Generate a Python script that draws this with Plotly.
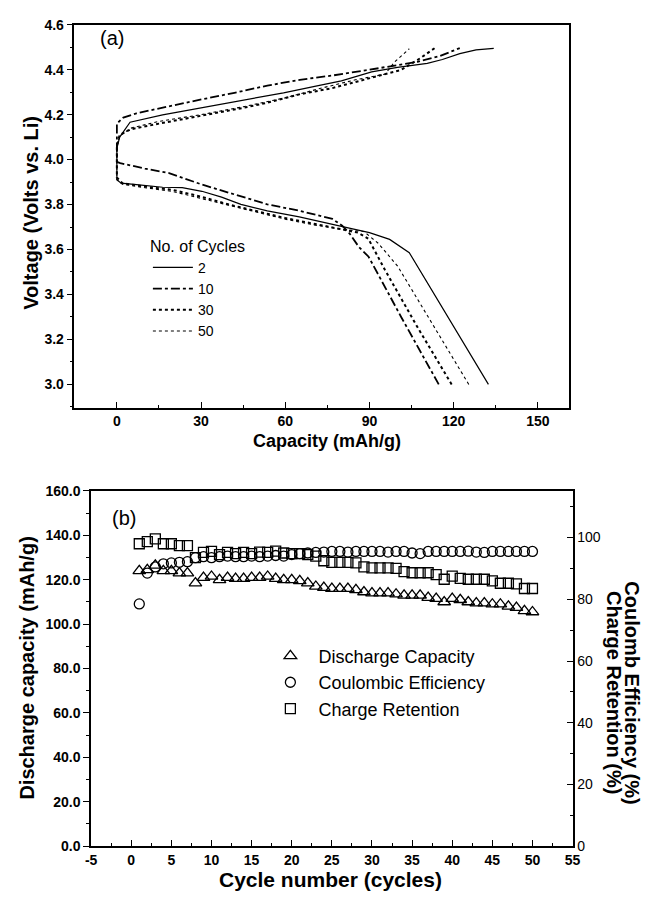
import plotly.graph_objects as go

FONT = "Liberation Sans, Arial, sans-serif"

# ---------------- Panel (a): charge / discharge voltage profiles ----------------
cycle_names = ["2", "10", "30", "50"]

c2_charge_cap = [0, 1, 4.7, 16.3, 30.3, 45.4, 59.4, 72.2, 80, 90.8, 100, 110.6, 116, 122.2, 128, 134.3]
c2_charge_v = [4.05, 4.10, 4.166, 4.199, 4.231, 4.268, 4.297, 4.33, 4.35, 4.39, 4.41, 4.428, 4.445, 4.471, 4.488, 4.495]
c2_dis_cap = [0, 1.5, 7, 16.3, 23.3, 30.3, 37.3, 44.2, 53.6, 65, 76, 84, 90, 97.2, 104.2, 132.4]
c2_dis_v = [3.91, 3.895, 3.889, 3.877, 3.875, 3.859, 3.833, 3.801, 3.772, 3.745, 3.715, 3.692, 3.675, 3.645, 3.586, 3.0]

c10_charge_cap = [0, 2.3, 7, 18.6, 30.3, 41.9, 53.6, 65.2, 76.8, 89.7, 96.6, 107.1, 115, 122.2]
c10_charge_v = [4.16, 4.187, 4.206, 4.238, 4.268, 4.297, 4.329, 4.355, 4.374, 4.399, 4.413, 4.435, 4.46, 4.496]
c10_dis_cap = [0, 1.2, 10, 18.6, 30.3, 41.9, 53.6, 65.2, 76.8, 80.3, 83, 86.2, 89.7, 101.3, 114.7]
c10_dis_v = [3.99, 3.984, 3.96, 3.94, 3.889, 3.845, 3.801, 3.772, 3.736, 3.706, 3.67, 3.612, 3.568, 3.30, 3.0]

c30_charge_cap = [0, 1, 5, 15, 30.3, 45, 53.6, 65, 76.8, 89.7, 101.3, 108, 113.5]
c30_charge_v = [4.06, 4.11, 4.135, 4.16, 4.195, 4.23, 4.253, 4.29, 4.318, 4.362, 4.399, 4.45, 4.498]
c30_dis_cap = [0, 2, 10, 20, 30, 40, 50, 60, 70, 80, 86, 89.6, 95.5, 107.1, 119.3]
c30_dis_v = [3.92, 3.895, 3.88, 3.865, 3.835, 3.80, 3.77, 3.74, 3.715, 3.69, 3.675, 3.648, 3.51, 3.255, 3.0]

c50_charge_cap = [0, 1, 5, 15, 30, 45, 60, 72, 85, 95.6, 99, 104.2]
c50_charge_v = [4.06, 4.105, 4.14, 4.17, 4.20, 4.235, 4.275, 4.315, 4.355, 4.38, 4.435, 4.493]
c50_dis_cap = [0, 2, 10, 20, 30, 40, 50, 60, 70, 80, 88, 93.2, 100.1, 113, 125.4]
c50_dis_v = [3.91, 3.89, 3.875, 3.858, 3.828, 3.795, 3.765, 3.735, 3.71, 3.69, 3.68, 3.627, 3.525, 3.26, 3.0]

# ---------------- Panel (b): cycling performance ----------------
cycles = list(range(1, 51))
discharge_capacity = [
    124.0, 124.5, 126.5, 124.0, 124.0, 123.0, 123.0, 118.5, 121.0, 121.5,
    120.0, 121.0, 120.5, 120.5, 121.0, 121.0, 121.5, 120.5, 120.0, 120.0,
    119.5, 118.5, 117.0, 116.5, 116.0, 116.0, 116.0, 115.5, 114.5, 114.0,
    114.0, 114.0, 113.5, 113.0, 113.0, 113.0, 112.0, 111.5, 110.0, 111.5,
    111.0, 110.0, 109.5, 109.5, 109.0, 109.0, 108.0, 107.5, 106.0, 105.5,
]
coulombic_eff = [
    78.5, 88.5, 90.5, 91.5, 91.8, 92.0, 92.2, 93.5, 93.8, 93.5,
    93.8, 94.0, 93.8, 93.8, 94.0, 93.8, 94.0, 94.2, 94.0, 94.5,
    94.8, 95.0, 95.2, 95.3, 95.5, 95.5, 95.3, 95.5, 95.5, 95.5,
    95.5, 95.3, 95.5, 95.5, 95.0, 94.8, 95.5, 95.5, 95.5, 95.5,
    95.5, 95.6, 95.3, 95.2, 95.5, 95.5, 95.5, 95.5, 95.5, 95.5,
]
charge_retention = [
    98.0, 98.7, 99.6, 98.0, 98.0, 97.4, 97.4, 93.5, 95.2, 95.5,
    94.5, 95.2, 94.8, 95.2, 94.8, 95.3, 95.2, 95.6, 95.0, 94.8,
    94.8, 94.5, 94.0, 92.5, 92.0, 92.0, 92.0, 91.8, 90.5, 90.2,
    90.2, 90.2, 90.0, 89.0, 88.6, 88.6, 88.6, 88.0, 86.5, 87.5,
    86.8, 86.5, 86.5, 86.5, 86.0, 85.2, 85.2, 85.0, 83.5, 83.5,
]
series_names = ["Discharge Capacity", "Coulombic Efficiency", "Charge Retention"]

cycle_ticks = list(range(-5, 56, 5))
cycle_ticktext = [str(v) for v in cycle_ticks]  # plain hyphen for "-5"

fig = go.Figure()

# each cycle is drawn as one continuous path: discharge (reversed) -> rest step at 0 -> charge
profiles = [
    (c2_charge_cap, c2_charge_v, c2_dis_cap, c2_dis_v, "solid", 1.2),
    (c10_charge_cap, c10_charge_v, c10_dis_cap, c10_dis_v, "dashdot", 1.8),
    (c30_charge_cap, c30_charge_v, c30_dis_cap, c30_dis_v, "dot", 2.0),
    (c50_charge_cap, c50_charge_v, c50_dis_cap, c50_dis_v, "dot", 1.1),
]
for name, (ccap, cv, dcap, dv, dash, w) in zip(cycle_names, profiles):
    xs = list(reversed(dcap)) + list(ccap)
    ys = list(reversed(dv)) + list(cv)
    fig.add_trace(go.Scatter(
        x=xs, y=ys, mode="lines", name=name,
        line=dict(color="black", width=w, dash=dash),
        xaxis="x", yaxis="y", legend="legend",
    ))

mk_line = dict(color="black", width=1.3)
fig.add_trace(go.Scatter(
    x=cycles, y=discharge_capacity, mode="markers", name=series_names[0],
    marker=dict(symbol="triangle-up-open", size=11, color="black", line=mk_line),
    xaxis="x2", yaxis="y2", legend="legend2",
))
fig.add_trace(go.Scatter(
    x=cycles, y=coulombic_eff, mode="markers", name=series_names[1],
    marker=dict(symbol="circle-open", size=10, color="black", line=mk_line),
    xaxis="x2", yaxis="y3", legend="legend2",
))
fig.add_trace(go.Scatter(
    x=cycles, y=charge_retention, mode="markers", name=series_names[2],
    marker=dict(symbol="square-open", size=10, color="black", line=mk_line),
    xaxis="x2", yaxis="y3", legend="legend2",
))

W, H = 653, 903


def px(x):
    return x / W


def py(y):
    return 1 - y / H


bold_tick = dict(family=FONT, size=14, color="black", weight="bold")
reg_tick = dict(family=FONT, size=14, color="black")
axis_common = dict(showline=True, linecolor="black", linewidth=1.6, showgrid=False,
                   zeroline=False, tickcolor="black", tickwidth=1.3)

fig.update_layout(
    width=W, height=H,
    margin=dict(l=0, r=0, t=0, b=0),
    paper_bgcolor="white", plot_bgcolor="white",
    font=dict(family=FONT, color="black"),
    xaxis=dict(
        domain=[px(70), px(575)], anchor="y", range=[-15.1, 161],
        tickmode="array", tickvals=[0, 30, 60, 90, 120, 150],
        ticks="inside", ticklen=6, tickfont=bold_tick, mirror=True,
        minor=dict(tickmode="array", tickvals=[15, 45, 75, 105, 135],
                   ticks="inside", ticklen=3, tickcolor="black", tickwidth=1.2),
        **axis_common,
    ),
    yaxis=dict(
        domain=[py(407), py(17)], anchor="x", range=[2.896, 4.6],
        tickmode="linear", tick0=3.0, dtick=0.2, tickformat=".1f",
        ticks="outside", ticklen=6, tickfont=bold_tick, mirror=True,
        minor=dict(tickmode="linear", tick0=2.9, dtick=0.1,
                   ticks="outside", ticklen=3, tickcolor="black", tickwidth=1.2),
        **axis_common,
    ),
    xaxis2=dict(
        domain=[px(87), px(579)], anchor="y2", range=[-5, 55],
        tickmode="array", tickvals=cycle_ticks, ticktext=cycle_ticktext,
        ticks="inside", ticklen=6, tickfont=bold_tick, mirror=True,
        minor=dict(tickmode="linear", tick0=-2.5, dtick=5,
                   ticks="inside", ticklen=3, tickcolor="black", tickwidth=1.2),
        **axis_common,
    ),
    yaxis2=dict(
        domain=[py(853.3), py(491.7)], anchor="x2", range=[0, 160],
        tickmode="linear", tick0=0, dtick=20, tickformat=".1f",
        ticks="outside", ticklen=6, tickfont=bold_tick,
        minor=dict(tickmode="linear", tick0=10, dtick=20,
                   ticks="outside", ticklen=3, tickcolor="black", tickwidth=1.2),
        **axis_common,
    ),
    yaxis3=dict(
        overlaying="y2", side="right", anchor="x2", range=[0, 115.1],
        tickmode="linear", tick0=0, dtick=20,
        ticks="inside", ticklen=6, tickfont=reg_tick,
        minor=dict(tickmode="linear", tick0=10, dtick=20,
                   ticks="inside", ticklen=3, tickcolor="black", tickwidth=1.2),
        **axis_common,
    ),
    legend=dict(
        x=px(145), y=py(227), xanchor="left", yanchor="top",
        bgcolor="rgba(0,0,0,0)", borderwidth=0,
        font=dict(family=FONT, size=14, color="black"),
        title=dict(text="No. of Cycles", font=dict(family=FONT, size=16, color="black")),
        tracegroupgap=0, itemwidth=40,
    ),
    legend2=dict(
        x=px(262), y=py(641), xanchor="left", yanchor="top",
        bgcolor="rgba(0,0,0,0)", borderwidth=0,
        font=dict(family=FONT, size=18, color="black"),
        tracegroupgap=0, itemwidth=46,
    ),
)

annots = [
    dict(text="(a)", x=px(94), y=py(31), xanchor="left", yanchor="middle",
         font=dict(family=FONT, size=20)),
    dict(text="(b)", x=px(106), y=py(519), xanchor="left", yanchor="middle",
         font=dict(family=FONT, size=20)),
    dict(text="Capacity (mAh/g)", x=px(328), y=py(441), xanchor="center", yanchor="middle",
         font=dict(family=FONT, size=18, weight="bold")),
    dict(text="Cycle number (cycles)", x=px(332), y=py(887), xanchor="center", yanchor="middle",
         font=dict(family=FONT, size=21, weight="bold")),
    dict(text="Voltage (Volts vs. Li)", x=px(26), y=py(208), xanchor="center", yanchor="middle",
         textangle=-90, font=dict(family=FONT, size=20, weight="bold")),
    dict(text="Discharge capacity (mAh/g)", x=px(22), y=py(672), xanchor="center", yanchor="middle",
         textangle=-90, font=dict(family=FONT, size=20, weight="bold")),
    dict(text="Coulomb Efficiency (%)", x=px(640), y=py(697), xanchor="center", yanchor="middle",
         textangle=90, font=dict(family=FONT, size=20, weight="bold")),
    dict(text="Charge Retention (%)", x=px(622), y=py(697), xanchor="center", yanchor="middle",
         textangle=90, font=dict(family=FONT, size=20, weight="bold")),
]
for a in annots:
    a.update(xref="paper", yref="paper", showarrow=False)
fig.update_layout(annotations=annots)

fig.write_html("out.html")
